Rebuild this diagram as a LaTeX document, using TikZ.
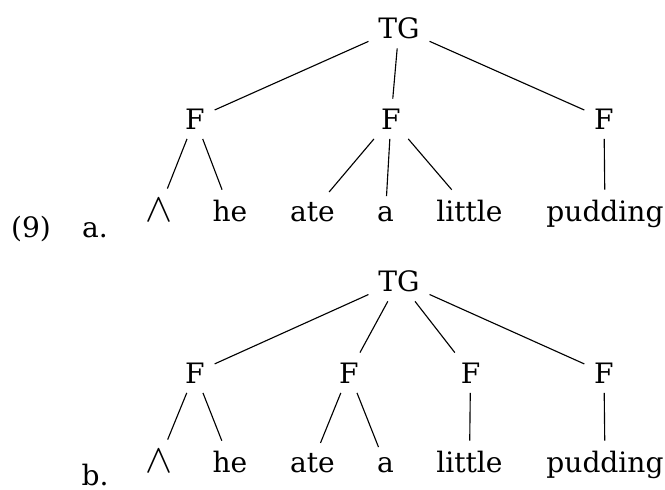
\documentclass[tikz,border=0pt]{standalone}
\usepackage{fontspec}
\setmainfont{DejaVu Serif}
\usepackage{tikz}
\usetikzlibrary{positioning}

\tikzset{
  cat/.style={anchor=base},
  leaf/.style={anchor=base},
  exno/.style={anchor=base}
}
\newcommand{\gap}{{\Large$\wedge$}}

\begin{document}
\begin{tikzpicture}[x=1.25mm, y=1.25mm]
	\useasboundingbox (0,0) rectangle (66.5,48.9);

	% Labels
	\node[exno] (num) at (3.1,25.2) {(9)};
	\node[exno] (la) at (9.5,25.2) {a.};
	\node[exno] (lb) at (9.5,0.35) {b.};

	% Tree (a)
	\node[cat] (tga) at (39.9,45.1) {TG};
	\node[cat] (fa1) at (19.5,36.0) {F};
	\node[cat] (fa2) at (39.1,36.0) {F};
	\node[cat] (fa3) at (60.4,36.0) {F};
	\node[leaf] (wa1) at (15.9,26.8) {\gap};
	\node[leaf] (wa2) at (23.0,26.8) {he};
	\node[leaf] (wa3) at (31.25,26.8) {ate};
	\node[leaf] (wa4) at (38.55,26.8) {a};
	\node[leaf] (wa5) at (46.95,26.8) {little};
	\node[leaf] (wa6) at (60.5,26.8) {pudding};
	\draw (tga) -- (fa1);
	\draw (tga) -- (fa2);
	\draw (tga) -- (fa3);
	\draw (fa1) -- (wa1);
	\draw (fa1) -- (wa2);
	\draw (fa2) -- (wa3);
	\draw (fa2) -- (wa4);
	\draw (fa2) -- (wa5);
	\draw (fa3) -- (wa6);

	% Tree (b)
	\node[cat] (tgb) at (39.9,19.8) {TG};
	\node[cat] (fb1) at (19.5,10.6) {F};
	\node[cat] (fb2) at (34.9,10.6) {F};
	\node[cat] (fb3) at (47.05,10.6) {F};
	\node[cat] (fb4) at (60.4,10.6) {F};
	\node[leaf] (wb1) at (15.9,1.7) {\gap};
	\node[leaf] (wb2) at (23.0,1.7) {he};
	\node[leaf] (wb3) at (31.25,1.7) {ate};
	\node[leaf] (wb4) at (38.55,1.7) {a};
	\node[leaf] (wb5) at (46.95,1.7) {little};
	\node[leaf] (wb6) at (60.5,1.7) {pudding};
	\draw (tgb) -- (fb1);
	\draw (tgb) -- (fb2);
	\draw (tgb) -- (fb3);
	\draw (tgb) -- (fb4);
	\draw (fb1) -- (wb1);
	\draw (fb1) -- (wb2);
	\draw (fb2) -- (wb3);
	\draw (fb2) -- (wb4);
	\draw (fb3) -- (wb5);
	\draw (fb4) -- (wb6);
\end{tikzpicture}
\end{document}
